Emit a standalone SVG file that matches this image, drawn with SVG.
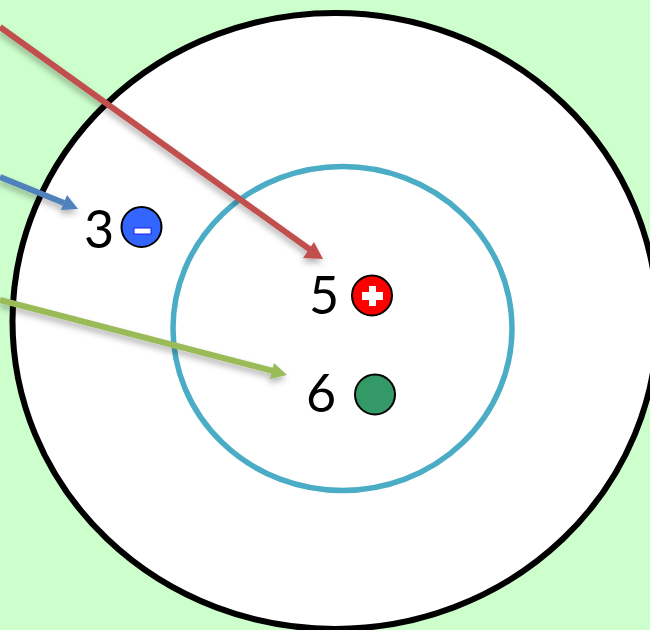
<svg xmlns="http://www.w3.org/2000/svg" width="650" height="630" viewBox="0 0 650 630">
<style>
.lbl{font-family:"Lato","Liberation Sans",sans-serif;font-size:52px;fill:#000;text-anchor:middle}
.dot{stroke:#000;stroke-width:2}
.ln{fill:none;stroke-width:6}
</style>
<defs>
<filter id="sh" x="-10%" y="-30%" width="120%" height="160%"><feDropShadow dx="-1" dy="4" stdDeviation="3" flood-color="#000" flood-opacity="0.3"/></filter>
</defs>
<rect width="650" height="630" fill="#ccffcc"/>
<g id="outer"><ellipse cx="335" cy="321" rx="322.500" ry="308" fill="#fff" stroke="#000" stroke-width="6"/></g>
<g id="inner"><ellipse cx="342.500" cy="328.500" rx="169.500" ry="162" fill="none" stroke="#4bacc6" stroke-width="5.500"/></g>
<g id="connectors" filter="url(#sh)">
<path class="ln" stroke="#c0504d" d="M0 27L312 251"/><path fill="#c0504d" d="M323 259L303 258L314 242Z"/>
<path class="ln" stroke="#4f81bd" d="M0 177L64 203"/><path fill="#4f81bd" d="M78 209L61 210L67 195Z"/>
<path class="ln" stroke="#9bbb59" d="M0 300L273 371"/><path fill="#9bbb59" d="M287 375L270 379L274 363Z"/>
</g>
<g id="n3"><text class="lbl" x="99" y="248">3</text><circle class="dot" cx="141.500" cy="227" r="20" fill="#3366ff"/><rect x="134" y="228" width="17" height="6" fill="#fff" stroke="#1a1aff"/></g>
<g id="n5"><text class="lbl" x="324" y="314">5</text><circle class="dot" cx="372" cy="295.500" r="20" fill="#ff0000"/><path fill="#fff" d="M369 286H376V292H383V300H376V306H369V300H362V292H369Z"/></g>
<g id="n6"><text class="lbl" x="321" y="412">6</text><circle class="dot" cx="375" cy="394.500" r="20" fill="#339966"/></g>
</svg>
